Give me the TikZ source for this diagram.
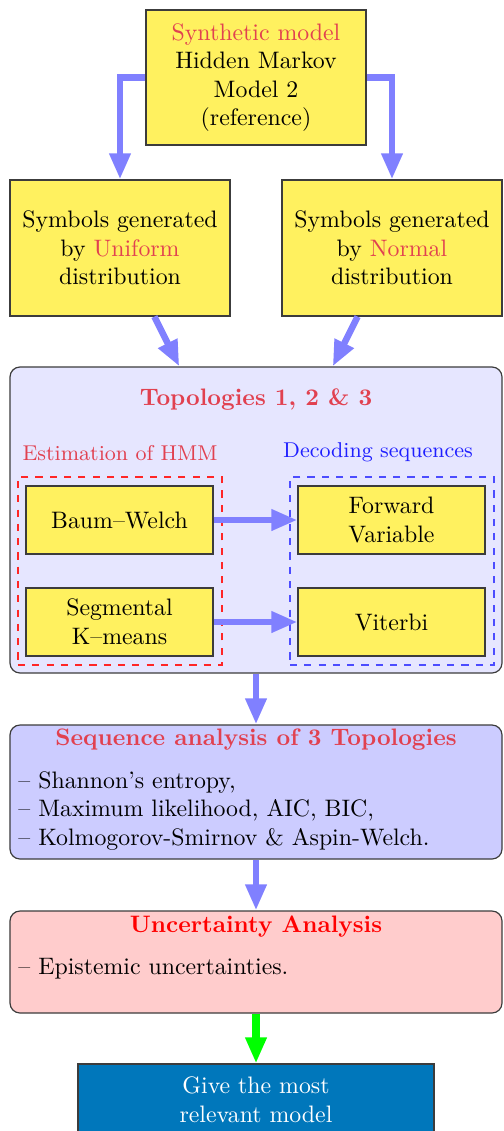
\documentclass[tikz,border=0pt]{standalone}
\usetikzlibrary{arrows.meta}
\definecolor{boxyellow}{RGB}{255,241,95}
\definecolor{titlered}{RGB}{225,65,80}
\definecolor{arrowblue}{RGB}{128,128,255}
\definecolor{topofill}{RGB}{230,230,255}
\definecolor{seqfill}{RGB}{204,204,255}
\definecolor{uncfill}{RGB}{255,204,204}
\definecolor{finalfill}{RGB}{0,119,187}
\definecolor{decblue}{RGB}{30,30,255}
\definecolor{edgegray}{RGB}{60,60,60}
\tikzset{
  ybox/.style={draw=edgegray, line width=0.5pt, fill=boxyellow, align=center, inner sep=0pt},
  bigbox/.style={draw=edgegray, line width=0.5pt, rounded corners=4.2pt, minimum width=206.64pt, inner sep=0pt},
  dbox/.style={dashed, line width=0.5pt, minimum width=85.68pt, minimum height=78.96pt, inner sep=0pt},
  txt/.style={inner sep=0pt, align=center},
  flow/.style={draw=arrowblue, line width=2.73pt, -{Triangle[length=10.9pt,width=8.4pt]}},
  gflow/.style={draw=green, line width=3pt, -{Triangle[length=10.9pt,width=8.4pt]}}
}
\begin{document}
\begin{tikzpicture}[x=0.42pt,y=-0.42pt]
\useasboundingbox (0,0) rectangle (503,1131);
% top
\node[ybox, minimum width=92.4pt, minimum height=56.7pt] (top) at (256,77.5)
  {\textcolor{titlered}{Synthetic model}\\Hidden Markov\\Model 2\\(reference)};
\node[ybox, minimum width=92.4pt, minimum height=57.12pt] (uni) at (120,248)
  {Symbols generated\\by \textcolor{titlered}{Uniform}\\distribution};
\node[ybox, minimum width=92.4pt, minimum height=57.12pt] (nor) at (392,248)
  {Symbols generated\\by \textcolor{titlered}{Normal}\\distribution};
% topologies
\node[bigbox, fill=topofill, minimum height=128.52pt] (topo) at (256,520) {};
\node[txt, font=\bfseries, text=titlered] (topotitle) at (256,400) {Topologies 1, 2 \& 3};
\node[txt, font=\small, text=titlered] (estlab) at (120,453) {Estimation of HMM};
\node[txt, font=\small, text=decblue] (declab) at (378,452) {Decoding sequences};
\node[dbox, draw=red!85] (est) at (120,571) {};
\node[dbox, draw=blue!70] (dec) at (392,571) {};
\node[ybox, minimum width=78.54pt, minimum height=28.56pt] (bw) at (119.5,520) {Baum--Welch};
\node[ybox, minimum width=78.54pt, minimum height=28.56pt] (sk) at (119.5,622) {Segmental\\K--means};
\node[ybox, minimum width=78.54pt, minimum height=28.56pt] (fv) at (391.5,520) {Forward\\Variable};
\node[ybox, minimum width=78.54pt, minimum height=28.56pt] (vit) at (391.5,622) {Viterbi};
% sequence analysis
\node[bigbox, fill=seqfill, minimum height=56.28pt] (seq) at (256,792) {};
\node[txt, font=\bfseries, text=titlered] (seqtitle) at (256,740) {Sequence analysis of 3 Topologies};
\node[inner sep=0pt, align=left, anchor=west] (seqtxt) at (18,811)
  {-- Shannon's entropy,\\-- Maximum likelihood, AIC, BIC,\\-- Kolmogorov-Smirnov \& Aspin-Welch.};
% uncertainty
\node[bigbox, fill=uncfill, minimum height=42.84pt] (unc) at (256,962) {};
\node[txt, font=\bfseries, text=red] (unctitle) at (256,927) {Uncertainty Analysis};
\node[inner sep=0pt, align=left, anchor=west] (unctxt) at (18,969) {-- Epistemic uncertainties.};
% final
\node[draw=edgegray, line width=0.5pt, fill=finalfill, text=white, align=center, inner sep=0pt,
  minimum width=149.52pt, minimum height=29.82pt] (final) at (256,1099.5) {Give the most\\relevant model};
% arrows
\draw[flow] (top.west) -| (uni.north);
\draw[flow] (top.east) -| (nor.north);
\draw[flow] (uni) -- (topo);
\draw[flow] (nor) -- (topo);
\draw[flow] (bw) -- (fv);
\draw[flow] (sk) -- (vit);
\draw[flow] (topo) -- (seq);
\draw[flow] (seq) -- (unc);
\draw[gflow] (unc) -- (final);
\end{tikzpicture}
\end{document}
